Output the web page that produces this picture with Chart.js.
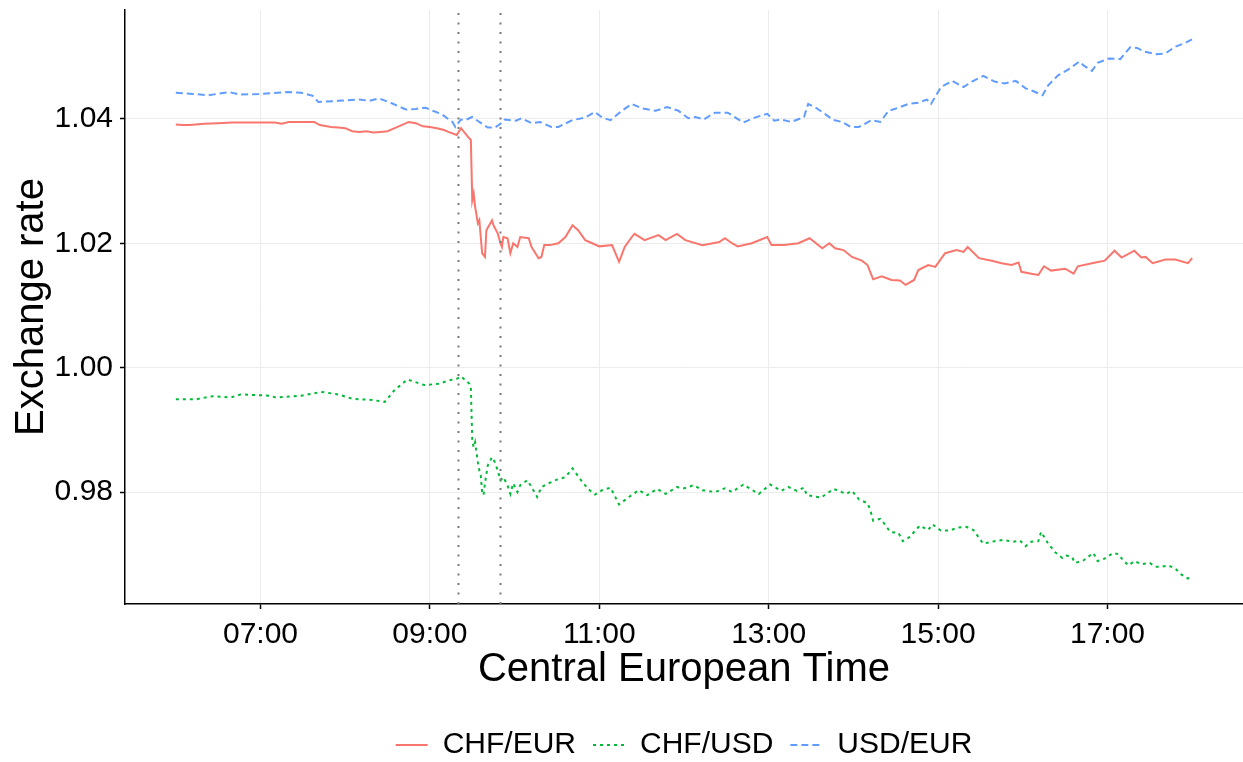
<!DOCTYPE html>
<html>
<head>
<meta charset="utf-8">
<script src="https://cdn.jsdelivr.net/npm/chart.js@4/dist/chart.umd.min.js"></script>
<style>
  html, body { margin: 0; padding: 0; background: #ffffff; }
  #wrap { width: 1243px; height: 762px; }
</style>
</head>
<body>
<div id="wrap"><canvas id="c" width="1243" height="762"></canvas></div>
<script>
// ---------------- data ----------------
const seriesNames = ["CHF/EUR", "CHF/USD", "USD/EUR"];

const chfEurTimes = [
  "06:00","06:05","06:10","06:20","06:30","06:40","06:50",
  "07:00","07:10","07:15","07:20","07:30","07:38","07:42","07:50","07:55",
  "08:00","08:05","08:10","08:15","08:20","08:25","08:30","08:35","08:40","08:45","08:50","08:55",
  "09:00","09:05","09:10","09:13","09:19","09:22","09:27","09:29","09:30","09:31","09:32","09:34","09:35","09:37","09:39","09:40","09:44","09:45","09:48","09:50","09:51","09:52","09:55","09:57","09:59",
  "10:02","10:04","10:10","10:12","10:17","10:19","10:21","10:25","10:31","10:36","10:41","10:45","10:50","10:55",
  "11:00","11:09","11:14","11:18","11:23","11:25","11:32","11:42","11:47","11:55",
  "12:01","12:13","12:25","12:29","12:34","12:38","12:48","12:59",
  "13:02","13:11","13:21","13:29","13:38","13:43","13:47","13:53","13:59",
  "14:06","14:10","14:14","14:20","14:27","14:33","14:37","14:43","14:46","14:53","14:58",
  "15:05","15:13","15:18","15:21","15:29","15:38","15:45","15:52","15:57","15:59",
  "16:06","16:11","16:15","16:20","16:30","16:36","16:39","16:49","16:58",
  "17:05","17:10","17:19","17:24","17:27","17:32","17:41","17:48","17:57",
  "18:00"
];
const chfEurValues = [
  1.0391,1.0390,1.0390,1.0392,1.0393,1.0394,1.0394,
  1.0394,1.0394,1.0392,1.0395,1.0395,1.0395,1.0390,1.0387,1.0386,
  1.0385,1.0380,1.0379,1.0380,1.0378,1.0379,1.0380,1.0385,1.0390,1.0395,1.0393,1.0388,
  1.0387,1.0385,1.0382,1.0379,1.0374,1.0385,1.0371,1.0366,1.0269,1.0280,1.0259,1.0232,1.0237,1.0184,1.0178,1.0221,1.0237,1.0229,1.0216,1.0200,1.0194,1.0210,1.0208,1.0184,1.0200,
  1.0194,1.0210,1.0208,1.0194,1.0176,1.0178,1.0197,1.0197,1.0200,1.0210,1.0229,1.0221,1.0205,1.0200,
  1.0195,1.0197,1.0170,1.0194,1.0210,1.0215,1.0205,1.0213,1.0205,1.0215,
  1.0205,1.0197,1.0202,1.0208,1.0200,1.0195,1.0200,1.0210,
  1.0197,1.0197,1.0200,1.0208,1.0192,1.0200,1.0192,1.0189,1.0178,
  1.0172,1.0165,1.0142,1.0147,1.0141,1.0140,1.0133,1.0141,1.0157,1.0165,1.0162,
  1.0184,1.0189,1.0186,1.0194,1.0176,1.0172,1.0168,1.0165,1.0169,1.0154,
  1.0151,1.0149,1.0163,1.0156,1.0159,1.0151,1.0163,1.0168,1.0172,
  1.0188,1.0177,1.0188,1.0177,1.0178,1.0168,1.0174,1.0174,1.0168,
  1.0176
];

const chfUsdTimes = [
  "06:00","06:14","06:26","06:39","06:46",
  "07:06","07:11","07:29","07:43","07:55",
  "08:05","08:19","08:28","08:35","08:44","08:56",
  "09:06","09:13","09:16","09:19","09:22","09:28","09:29","09:30","09:31","09:32","09:33","09:34","09:35","09:36","09:37","09:38","09:39","09:41","09:44","09:46","09:48","09:50","09:52","09:55","09:57","09:59",
  "10:02","10:04","10:09","10:12","10:16","10:19","10:24","10:30","10:36","10:41","10:47","10:52","10:57",
  "11:02","11:08","11:14","11:21","11:28","11:34","11:41","11:47","11:55",
  "12:00","12:07","12:13","12:22","12:29","12:34","12:42","12:53",
  "13:01","13:09","13:14","13:20","13:25","13:27","13:37","13:46","13:55","13:59",
  "14:04","14:10","14:12","14:14","14:19","14:22","14:26","14:32","14:35","14:40","14:47","14:53","14:56",
  "15:02","15:08","15:14","15:20","15:25","15:32","15:40","15:46","15:53","15:58",
  "16:02","16:06","16:11","16:13","16:18","16:23","16:28","16:31","16:35","16:37","16:43","16:50","16:53","16:58",
  "17:04","17:08","17:11","17:15","17:19","17:24","17:30","17:34","17:38","17:43","17:48","17:52","17:57",
  "18:00"
];
const chfUsdValues = [
  0.9949,0.9949,0.9954,0.9952,0.9957,
  0.9955,0.9952,0.9955,0.9961,0.9957,
  0.9950,0.9948,0.9945,0.9964,0.9981,0.9972,
  0.9974,0.9979,0.9981,0.9982,0.9986,0.9974,0.9969,0.9883,0.9872,0.9880,0.9864,0.9848,0.9835,0.9827,0.9800,0.9795,0.9814,0.9843,0.9856,0.9848,0.9835,0.9819,0.9824,0.9811,0.9797,0.9814,
  0.9800,0.9811,0.9819,0.9808,0.9792,0.9808,0.9814,0.9820,0.9824,0.9838,0.9819,0.9805,0.9796,
  0.9803,0.9807,0.9780,0.9792,0.9803,0.9795,0.9805,0.9797,0.9808,
  0.9806,0.9811,0.9803,0.9800,0.9806,0.9800,0.9812,0.9797,
  0.9812,0.9802,0.9808,0.9802,0.9807,0.9795,0.9791,0.9805,0.9797,0.9802,
  0.9788,0.9782,0.9771,0.9754,0.9757,0.9749,0.9736,0.9734,0.9721,0.9728,0.9746,0.9739,0.9748,
  0.9738,0.9738,0.9743,0.9744,0.9739,0.9717,0.9721,0.9723,0.9720,0.9722,
  0.9713,0.9720,0.9721,0.9736,0.9717,0.9703,0.9694,0.9698,0.9695,0.9686,0.9690,0.9702,0.9689,0.9693,
  0.9702,0.9700,0.9690,0.9682,0.9689,0.9684,0.9686,0.9680,0.9680,0.9682,0.9677,0.9668,0.9661,
  0.9664
];

const usdEurTimes = [
  "06:00","06:12","06:23","06:38","06:45","06:59",
  "07:18","07:29","07:37","07:41","07:55",
  "08:10","08:17","08:24","08:33","08:43","08:50","08:57",
  "09:02","09:08","09:16","09:18","09:22","09:25","09:30","09:35","09:41","09:46","09:50","09:53",
  "10:01","10:05","10:12","10:18","10:26","10:31","10:41","10:50","10:57",
  "11:02","11:08","11:16","11:23","11:30","11:40","11:48","11:56",
  "12:03","12:08","12:14","12:22","12:31","12:42","12:50","12:59",
  "13:04","13:09","13:16","13:25","13:28","13:34","13:41","13:46","13:52","13:58",
  "14:04","14:13","14:19","14:25","14:32","14:39","14:46","14:52","14:55",
  "15:02","15:10","15:18","15:24","15:32","15:40","15:47","15:55",
  "16:02","16:08","16:14","16:18","16:25","16:32","16:40","16:43","16:49","16:53",
  "17:01","17:09","17:16","17:21","17:26","17:35","17:41","17:48","17:55",
  "18:00"
];
const usdEurValues = [
  1.0442,1.0440,1.0438,1.0443,1.0439,1.0440,
  1.0443,1.0442,1.0437,1.0427,1.0429,
  1.0431,1.0429,1.0433,1.0425,1.0415,1.0416,1.0418,
  1.0413,1.0408,1.0395,1.0387,1.0399,1.0398,1.0403,1.0395,1.0386,1.0386,1.0392,1.0399,
  1.0397,1.0401,1.0393,1.0395,1.0387,1.0387,1.0398,1.0402,1.0411,
  1.0402,1.0398,1.0413,1.0424,1.0417,1.0413,1.0419,1.0413,
  1.0401,1.0403,1.0399,1.0410,1.0410,1.0394,1.0402,1.0408,
  1.0397,1.0399,1.0395,1.0403,1.0424,1.0417,1.0406,1.0398,1.0395,1.0387,
  1.0387,1.0398,1.0395,1.0413,1.0418,1.0424,1.0426,1.0431,1.0424,
  1.0451,1.0461,1.0451,1.0460,1.0469,1.0460,1.0457,1.0461,
  1.0449,1.0444,1.0438,1.0454,1.0470,1.0479,1.0492,1.0486,1.0477,1.0490,
  1.0497,1.0496,1.0515,1.0514,1.0508,1.0504,1.0505,1.0516,1.0522,
  1.0528
];

const xTickLabels = ["07:00", "09:00", "11:00", "13:00", "15:00", "17:00"];
const yTickValues = [0.98, 1.00, 1.02, 1.04];
const eventTimes = ["09:20", "09:50"];
const xTitle = "Central European Time";
const yTitle = "Exchange rate";

// ---------------- helpers ----------------
const toHours = s => { const [h, m] = s.split(":").map(Number); return h + m / 60; };
const fmtHM = v => { const h = Math.floor(v + 1e-9); const m = Math.round((v - h) * 60); return String(h).padStart(2, "0") + ":" + String(m).padStart(2, "0"); };
const toPoints = (times, vals) => times.map((t, i) => ({ x: toHours(t), y: vals[i] }));

const FONT = "'Liberation Sans', Arial, Helvetica, sans-serif";

const vlinePlugin = {
  id: "vlines",
  afterDatasetsDraw(chart) {
    const { ctx, chartArea: { top, bottom }, scales: { x } } = chart;
    ctx.save();
    ctx.strokeStyle = "#7a7a7a";
    ctx.lineWidth = 2;
    ctx.setLineDash([2, 7.5]);
    eventTimes.forEach(t => {
      const px = Math.round(x.getPixelForValue(toHours(t))) + 0.5;
      ctx.beginPath();
      ctx.moveTo(px, bottom);
      ctx.lineTo(px, top);
      ctx.stroke();
    });
    ctx.restore();
  }
};

new Chart(document.getElementById("c"), {
  type: "line",
  data: {
    datasets: [
      { label: seriesNames[0], data: toPoints(chfEurTimes, chfEurValues), borderColor: "#F8766D", backgroundColor: "#F8766D", borderWidth: 2, borderDash: [] },
      { label: seriesNames[1], data: toPoints(chfUsdTimes, chfUsdValues), borderColor: "#00BA38", backgroundColor: "#00BA38", borderWidth: 2, borderDash: [3, 4] },
      { label: seriesNames[2], data: toPoints(usdEurTimes, usdEurValues), borderColor: "#619CFF", backgroundColor: "#619CFF", borderWidth: 2, borderDash: [7, 4] }
    ]
  },
  options: {
    responsive: false,
    animation: false,
    devicePixelRatio: 1,
    elements: { point: { radius: 0 }, line: { tension: 0 } },
    layout: { padding: { top: 10, right: 0, left: 0, bottom: -8 } },
    plugins: {
      tooltip: { enabled: false },
      legend: {
        position: "bottom",
        fullSize: false,
        labels: {
          usePointStyle: true,
          pointStyle: "line",
          pointStyleWidth: 32,
          boxHeight: 30,
          padding: 17,
          color: "#000000",
          font: { family: FONT, size: 30 },
          generateLabels: chart => chart.data.datasets.map((ds, i) => ({
            text: ds.label,
            datasetIndex: i,
            fillStyle: ds.borderColor,
            strokeStyle: ds.borderColor,
            lineWidth: ds.borderWidth,
            lineDash: ds.borderDash,
            lineCap: "butt",
            pointStyle: "line",
            hidden: false,
            fontColor: "#000000"
          }))
        }
      }
    },
    scales: {
      x: {
        type: "linear",
        min: 5.4,
        max: 18.6,
        afterBuildTicks: s => { s.ticks = xTickLabels.map(l => ({ value: toHours(l) })); },
        afterFit: s => { s.height = 109; s.paddingLeft = 0; s.paddingRight = 0; },
        ticks: { callback: v => fmtHM(v), color: "#000000", font: { family: FONT, size: 30 }, padding: 8, maxRotation: 0, autoSkip: false },
        grid: { color: "#ececec", lineWidth: 1, tickColor: "#000000", tickLength: 5, tickWidth: 1.5 },
        border: { display: true, color: "#000000", width: 1.5 },
        title: { display: true, text: xTitle, color: "#000000", font: { family: FONT, size: 40 }, padding: { top: 0, bottom: 19 } }
      },
      y: {
        type: "linear",
        min: 0.9620,
        max: 1.0575,
        afterBuildTicks: s => { s.ticks = yTickValues.map(v => ({ value: v })); },
        afterFit: s => { s.width = 125; s.paddingTop = 0; s.paddingBottom = 0; },
        ticks: { callback: v => Number(v).toFixed(2), color: "#000000", font: { family: FONT, size: 30 }, padding: 7 },
        grid: { color: "#ececec", lineWidth: 1, tickColor: "#000000", tickLength: 5, tickWidth: 1.5 },
        border: { display: true, color: "#000000", width: 1.5 },
        title: { display: true, text: yTitle, color: "#000000", font: { family: FONT, size: 40 }, padding: { top: 8, bottom: 0 } }
      }
    }
  },
  plugins: [vlinePlugin]
});
</script>
</body>
</html>
